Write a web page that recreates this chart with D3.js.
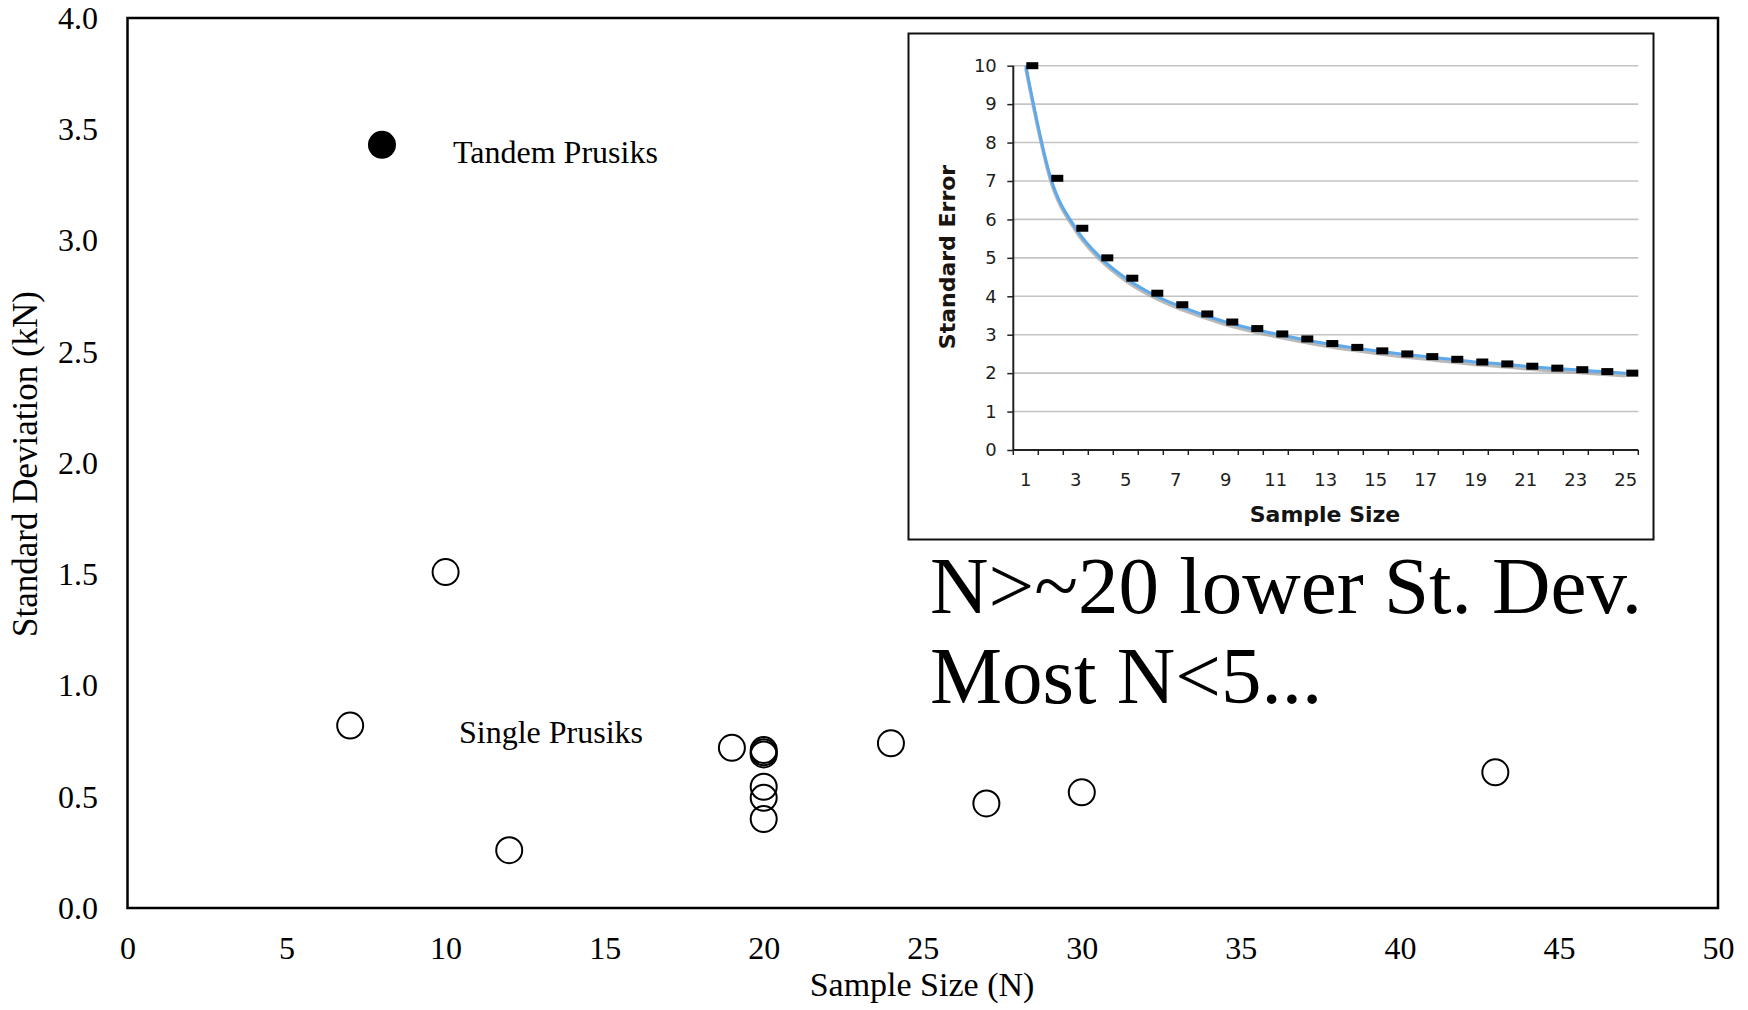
<!DOCTYPE html>
<html>
<head>
<meta charset="utf-8">
<script src="https://cdn.jsdelivr.net/npm/d3@7"></script>
<style>
  html, body { margin: 0; padding: 0; background: #fff; }
  svg { display: block; }
</style>
</head>
<body>
<script>
// ---- Main chart data ----
const singleN  = [7, 10, 12, 19, 20, 20, 20, 20, 20, 20, 24, 27, 30, 43];
const singleSD = [0.82, 1.51, 0.26, 0.72, 0.71, 0.70, 0.69, 0.545, 0.495, 0.40, 0.74, 0.47, 0.52, 0.61];
const tandemN  = [8];
const tandemSD = [3.43];
const xTickValues = [0, 5, 10, 15, 20, 25, 30, 35, 40, 45, 50];
const xTickLabels = ["0", "5", "10", "15", "20", "25", "30", "35", "40", "45", "50"];
const yTickValues = [0, 0.5, 1.0, 1.5, 2.0, 2.5, 3.0, 3.5, 4.0];
const yTickLabels = ["0.0", "0.5", "1.0", "1.5", "2.0", "2.5", "3.0", "3.5", "4.0"];

// ---- Inset chart data ----
const insetSampleSize = [1, 2, 3, 4, 5, 6, 7, 8, 9, 10, 11, 12, 13, 14, 15, 16, 17, 18, 19, 20, 21, 22, 23, 24, 25];
const insetStdError   = [10, 7.07, 5.77, 5.0, 4.47, 4.08, 3.78, 3.54, 3.33, 3.16, 3.02, 2.89, 2.77, 2.67, 2.58, 2.5, 2.43, 2.36, 2.29, 2.24, 2.18, 2.13, 2.09, 2.04, 2.0];
const insetYTicks = [0, 1, 2, 3, 4, 5, 6, 7, 8, 9, 10];
const insetXTickLabels = [1, 3, 5, 7, 9, 11, 13, 15, 17, 19, 21, 23, 25];

const W = 1748, H = 1010;
const svg = d3.select("body").append("svg").attr("width", W).attr("height", H);

const serif = "'Liberation Serif', 'Times New Roman', serif";
const sans = "'DejaVu Sans', Verdana, sans-serif";

// ---- Main scales ----
const x = d3.scaleLinear().domain([0, 50]).range([127.5, 1718]);
const y = d3.scaleLinear().domain([0, 4]).range([908, 18]);

// Plot box
svg.append("rect")
  .attr("x", x(0)).attr("y", y(4))
  .attr("width", x(50) - x(0)).attr("height", y(0) - y(4))
  .attr("fill", "none").attr("stroke", "#000").attr("stroke-width", 2.5);

// X axis (labels only)
const xAxis = svg.append("g").attr("transform", `translate(0,${y(0)})`)
  .call(d3.axisBottom(x).tickValues(xTickValues).tickSize(0)
    .tickFormat((d, i) => xTickLabels[i]));
xAxis.select(".domain").remove();
xAxis.selectAll("text").attr("y", 51).attr("dy", 0)
  .attr("font-family", serif).attr("font-size", 32).attr("fill", "#000");

// Y axis (labels only)
const yAxis = svg.append("g").attr("transform", `translate(${x(0)},0)`)
  .call(d3.axisLeft(y).tickValues(yTickValues).tickSize(0).tickPadding(29.5)
    .tickFormat((d, i) => yTickLabels[i]));
yAxis.select(".domain").remove();
yAxis.selectAll("text").attr("font-family", serif).attr("font-size", 32).attr("fill", "#000");

// Axis titles
svg.append("text").attr("x", 922).attr("y", 996)
  .attr("text-anchor", "middle").attr("font-family", serif).attr("font-size", 34)
  .text("Sample Size (N)");
svg.append("text").attr("transform", "translate(37,464) rotate(-90)")
  .attr("text-anchor", "middle").attr("font-family", serif).attr("font-size", 35)
  .text("Standard Deviation (kN)");

// ---- Inset chart ----
const insetBox = { x: 908.5, y: 33.5, w: 745, h: 506 };
svg.append("rect").attr("x", insetBox.x).attr("y", insetBox.y)
  .attr("width", insetBox.w).attr("height", insetBox.h)
  .attr("fill", "#fff").attr("stroke", "#111").attr("stroke-width", 2);

const ix = d3.scaleBand().domain(insetSampleSize).range([1013.3, 1638.3]).padding(0);
const iy = d3.scaleLinear().domain([0, 10]).range([450, 65.7]);
const cx = d => ix(d) + ix.bandwidth() / 2;

// gridlines
svg.append("g").selectAll("line").data(insetYTicks.filter(v => v > 0)).join("line")
  .attr("x1", 1013.3).attr("x2", 1638.3)
  .attr("y1", d => iy(d)).attr("y2", d => iy(d))
  .attr("stroke", "#c4c4c4").attr("stroke-width", 1.6);

// Y axis
const iyAxis = svg.append("g").attr("transform", "translate(1013.3,0)")
  .call(d3.axisLeft(iy).tickValues(insetYTicks).tickSize(6).tickPadding(10.5).tickFormat(d3.format("d")));
iyAxis.select(".domain").attr("stroke", "#222").attr("stroke-width", 2)
  .attr("d", `M0,${iy(10)}V${iy(0)}`);
iyAxis.selectAll(".tick line").attr("stroke", "#222").attr("stroke-width", 1.5);
iyAxis.selectAll("text").attr("font-family", sans).attr("font-size", 18).attr("fill", "#1e1e1e");

// X axis
const ixAxis = svg.append("g").attr("transform", `translate(0,${iy(0)})`)
  .call(d3.axisBottom(ix).tickValues(insetXTickLabels).tickSize(0));
ixAxis.select(".domain").attr("stroke", "#222").attr("stroke-width", 2)
  .attr("d", `M1013.3,0H1638.3`);
ixAxis.selectAll("text").attr("y", 36).attr("dy", 0)
  .attr("font-family", sans).attr("font-size", 18).attr("fill", "#1e1e1e");
// boundary tick marks
const bounds = insetSampleSize.map(d => ix(d)).concat([ix.range()[1]]);
ixAxis.append("g").selectAll("line").data(bounds).join("line")
  .attr("x1", d => d).attr("x2", d => d).attr("y1", 0).attr("y2", 5)
  .attr("stroke", "#222").attr("stroke-width", 1.5);

// line with shadow
const line = d3.line().x((d, i) => cx(insetSampleSize[i])).y(d => iy(d)).curve(d3.curveMonotoneX);
svg.append("path").datum(insetStdError).attr("d", line)
  .attr("transform", "translate(0,2.5)")
  .attr("fill", "none").attr("stroke", "#a8a8a8").attr("stroke-width", 3.5).attr("opacity", 0.8);
svg.append("path").datum(insetStdError).attr("d", line)
  .attr("fill", "none").attr("stroke", "#5da9ea").attr("stroke-width", 3);

// markers
svg.append("g").selectAll("rect").data(insetStdError).join("rect")
  .attr("x", (d, i) => cx(insetSampleSize[i]) + 0.5)
  .attr("y", d => iy(d) - 3.5)
  .attr("width", 12).attr("height", 7)
  .attr("fill", "#000");

// inset titles
svg.append("text").attr("x", 1325).attr("y", 522)
  .attr("text-anchor", "middle").attr("font-family", sans).attr("font-weight", "bold")
  .attr("font-size", 22).attr("fill", "#141414").text("Sample Size");
svg.append("text").attr("transform", "translate(955,257) rotate(-90)")
  .attr("text-anchor", "middle").attr("font-family", sans).attr("font-weight", "bold")
  .attr("font-size", 22).attr("fill", "#1a1410").text("Standard Error");

// ---- Points ----
svg.append("g").selectAll("circle").data(singleN).join("circle")
  .attr("cx", d => x(d)).attr("cy", (d, i) => y(singleSD[i]))
  .attr("r", 13).attr("fill", "none").attr("stroke", "#000").attr("stroke-width", 2);
svg.append("g").selectAll("circle").data(tandemN).join("circle")
  .attr("cx", d => x(d)).attr("cy", (d, i) => y(tandemSD[i]))
  .attr("r", 14).attr("fill", "#000");

// ---- Annotations ----
svg.append("text").attr("x", 453).attr("y", 163)
  .attr("font-family", serif).attr("font-size", 32).text("Tandem Prusiks");
svg.append("text").attr("x", 459).attr("y", 743)
  .attr("font-family", serif).attr("font-size", 32).text("Single Prusiks");
svg.append("text").attr("x", 930).attr("y", 613)
  .attr("font-family", serif).attr("font-size", 81).text("N>~20 lower St. Dev.");
svg.append("text").attr("x", 930).attr("y", 703)
  .attr("font-family", serif).attr("font-size", 81).text("Most N<5...");
</script>
</body>
</html>
